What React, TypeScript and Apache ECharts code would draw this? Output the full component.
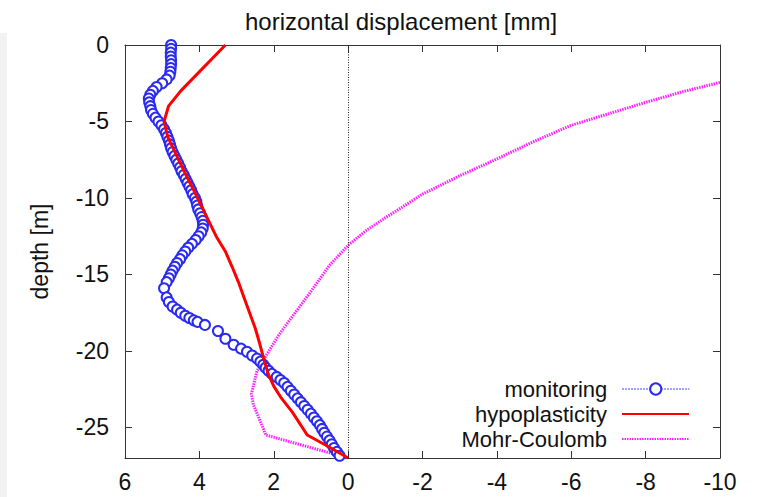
import React, { useEffect, useRef } from "react";
import * as echarts from "echarts";

const monitoringDepth = [
  0, -0.25, -0.5, -0.75, -1.0, -1.25, -1.5, -1.75, -2.0, -2.25, -2.5, -2.75, -3.0, -3.25, -3.5, -3.75,
  -4.0, -4.25, -4.5, -4.75, -5.0, -5.25, -5.5, -5.75, -6.0, -6.25, -6.5, -6.75, -7.0, -7.25, -7.5, -7.75,
  -8.0, -8.25, -8.5, -8.75, -9.0, -9.25, -9.5, -9.75, -10.0, -10.25, -10.5, -10.75, -11.0, -11.25, -11.5,
  -11.75, -12.0, -12.25, -12.5, -12.75, -13.0, -13.25, -13.5, -13.75, -14.0, -14.25, -14.5, -14.75, -15.0,
  -15.25, -15.5, -15.9, -16.5, -16.8, -17.1, -17.3, -17.5, -17.7, -17.85, -18.0, -18.1, -18.3, -18.7, -19.2,
  -19.6, -19.85, -20.05, -20.3, -20.5, -20.7, -20.9, -21.1, -21.3, -21.5, -21.7, -21.9, -22.1, -22.35, -22.6,
  -22.85, -23.1, -23.35, -23.6, -23.85, -24.1, -24.35, -24.6, -24.85, -25.1, -25.35, -25.6, -25.85, -26.1,
  -26.35, -26.6, -26.85,
];
const monitoringDisp = [
  4.76, 4.76, 4.77, 4.77, 4.76, 4.76, 4.77, 4.78, 4.8, 4.88, 5.0, 5.15, 5.25, 5.32, 5.36, 5.35,
  5.32, 5.3, 5.25, 5.18, 5.1, 5.02, 4.95, 4.9, 4.86, 4.82, 4.79, 4.76, 4.72, 4.67, 4.62, 4.57,
  4.52, 4.48, 4.42, 4.37, 4.32, 4.27, 4.22, 4.18, 4.12, 4.08, 4.06, 4.03, 3.98, 3.94, 3.91,
  3.9, 3.91, 3.95, 4.02, 4.1, 4.2, 4.3, 4.38, 4.46, 4.52, 4.6, 4.66, 4.72, 4.77,
  4.82, 4.88, 4.95, 4.88, 4.82, 4.72, 4.6, 4.5, 4.38, 4.27, 4.15, 4.05, 3.85, 3.5, 3.3,
  3.08, 2.88, 2.72, 2.58, 2.45, 2.36, 2.28, 2.22, 2.14, 2.05, 1.92, 1.82, 1.72, 1.63, 1.54,
  1.45, 1.36, 1.27, 1.18, 1.09, 1.0, 0.92, 0.84, 0.76, 0.7, 0.64, 0.57, 0.5, 0.44,
  0.38, 0.3, 0.23,
];

const hypoDepth = [0, -3, -4, -5, -6, -7.3, -8.3, -9.5, -10.5, -11.5, -12.5, -13.5, -14.5, -15.5, -16.5, -17.5, -18.5, -19.5, -20.5, -21.5, -22.3, -23, -24, -25.5, -26.3, -27];
const hypoDisp = [3.3, 4.5, 4.83, 4.95, 4.85, 4.6, 4.4, 4.15, 3.95, 3.75, 3.55, 3.3, 3.12, 2.95, 2.8, 2.65, 2.5, 2.38, 2.27, 2.15, 2.0, 1.82, 1.5, 1.1, 0.5, 0];

const mcDepth = [-2.45, -3.05, -3.75, -4.5, -5.25, -6.3, -7.45, -8.55, -9.75, -11.3, -12.1, -13.1, -14.4, -15.6, -17.1, -18.9, -20.6, -21.3, -22.8, -23.5, -25.5, -27];
const mcDisp = [-10, -9, -8, -7, -6, -5, -4, -3, -2, -1, -0.5, 0, 0.5, 0.85, 1.3, 1.85, 2.28, 2.45, 2.6, 2.55, 2.21, 0];

const depthTicks = [-25, -20, -15, -10, -5, 0];

const FONT = "Liberation Sans";
const TXT = "#111";
const AX = "#333";

export default function App() {
  const ref = useRef<HTMLDivElement>(null);
  useEffect(() => {
    const chart = echarts.init(ref.current!, undefined, { renderer: "svg" });
    const zip = (xs: number[], ys: number[]) => xs.map((x, i) => [x, ys[i]]);
    const axisLineStyle = { onZero: false, lineStyle: { color: AX, width: 1 } };
    const tickStyle = { inside: true, length: 7, lineStyle: { color: AX, width: 1 } };
    const legendCommon = {
      orient: "vertical",
      align: "right",
      right: 68,
      padding: 0,
      itemWidth: 67,
      itemHeight: 14,
      textStyle: { fontFamily: FONT, fontSize: 22, lineHeight: 20, color: TXT, padding: [0, 10, 0, 0] },
      selectedMode: false,
    };
    chart.setOption({
      animation: false,
      backgroundColor: "#fff",
      textStyle: { fontFamily: FONT },
      title: {
        text: "horizontal displacement [mm]",
        left: 396,
        textAlign: "center",
        top: 4,
        textStyle: { fontFamily: FONT, fontSize: 24, fontWeight: "normal", color: TXT },
      },
      graphic: [
        { type: "rect", shape: { x: 0, y: 33, width: 7, height: 464 }, style: { fill: "#f2f2f2" }, z: -10 },
      ],
      grid: { left: 125, right: 38, top: 45, bottom: 39, containLabel: false },
      xAxis: [
        {
          type: "value",
          min: -10,
          max: 6,
          interval: 2,
          inverse: true,
          position: "bottom",
          axisLine: axisLineStyle,
          axisTick: tickStyle,
          splitLine: { show: false },
          axisLabel: { fontFamily: FONT, fontSize: 23, color: TXT, margin: 12 },
        },
        {
          type: "value",
          min: -10,
          max: 6,
          interval: 2,
          inverse: true,
          position: "top",
          axisLine: axisLineStyle,
          axisTick: tickStyle,
          splitLine: { show: false },
          axisLabel: { show: false },
        },
      ],
      yAxis: [
        {
          type: "value",
          min: -27,
          max: 0,
          position: "left",
          name: "depth [m]",
          nameLocation: "middle",
          nameRotate: 90,
          nameGap: 74,
          nameTextStyle: { fontFamily: FONT, fontSize: 23, color: TXT },
          axisLine: axisLineStyle,
          axisTick: { ...tickStyle, customValues: depthTicks },
          axisLabel: { fontFamily: FONT, fontSize: 23, color: TXT, margin: 16, customValues: depthTicks },
          splitLine: { show: false },
        },
        {
          type: "value",
          min: -27,
          max: 0,
          position: "right",
          axisLine: axisLineStyle,
          axisTick: { ...tickStyle, customValues: depthTicks },
          axisLabel: { show: false },
          splitLine: { show: false },
        },
      ],
      legend: [
        { ...legendCommon, top: 378, data: [{ name: "monitoring", lineStyle: { color: "#5a5aff", width: 1.5, type: "dotted", opacity: 1 } }] },
        { ...legendCommon, top: 403, data: [{ name: "hypoplasticity", itemStyle: { opacity: 0 } }] },
        { ...legendCommon, top: 428, data: [{ name: "Mohr-Coulomb", itemStyle: { opacity: 0 } }] },
      ],
      series: [
        {
          name: "monitoring",
          type: "line",
          data: zip(monitoringDisp, monitoringDepth),
          symbol: "emptyCircle",
          symbolSize: 10,
          showAllSymbol: true,
          lineStyle: { width: 0, opacity: 0, color: "#5a5aff", type: "dotted" },
          itemStyle: { color: "#2a2af0", borderColor: "#2a2af0", borderWidth: 1 },
          z: 3,
        },
        {
          name: "hypoplasticity",
          type: "line",
          data: zip(hypoDisp, hypoDepth),
          symbol: "none",
          lineStyle: { color: "#ff0000", width: 3 },
          itemStyle: { color: "#ff0000" },
          z: 4,
          markLine: {
            silent: true,
            symbol: ["none", "none"],
            label: { show: false },
            lineStyle: { color: "#222", width: 1, type: [1, 1.5] },
            data: [{ xAxis: 0 }],
          },
        },
        {
          name: "Mohr-Coulomb",
          type: "line",
          data: zip(mcDisp, mcDepth),
          symbol: "none",
          lineStyle: { color: "#ff22ff", width: 3, type: [1.5, 1] },
          itemStyle: { color: "#ff22ff" },
          z: 2,
        },
      ],
    } as any);
    return () => chart.dispose();
  }, []);
  return (
    <div
      ref={ref}
      style={{ position: "fixed", left: 0, top: 0, width: 758, height: 497 }}
    />
  );
}
